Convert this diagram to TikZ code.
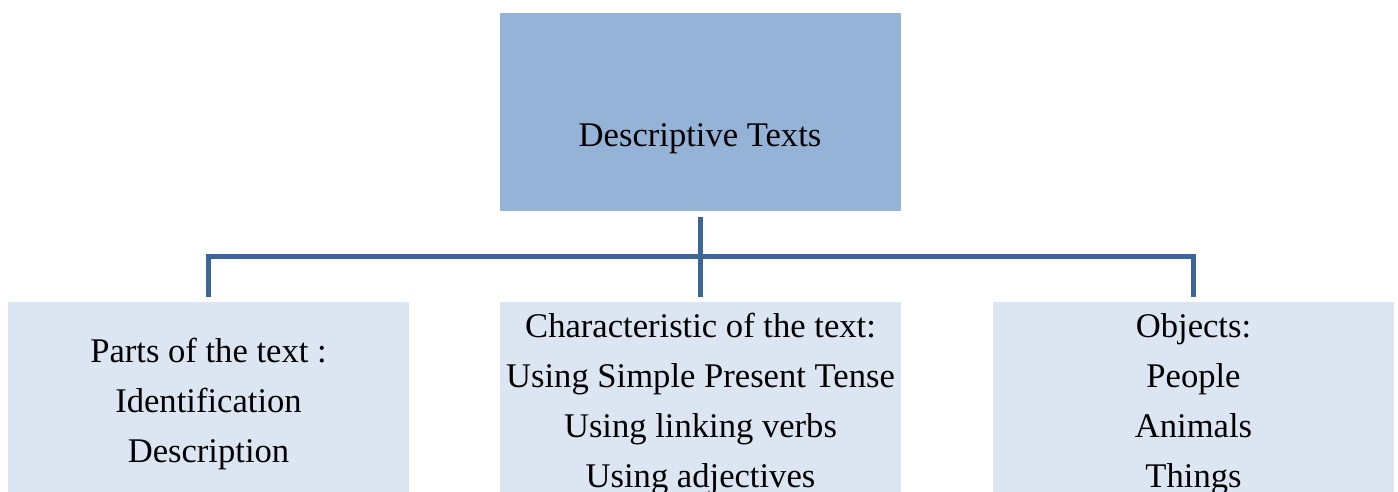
\documentclass[tikz,border=0pt]{standalone}
\usepackage{fontspec}
\setmainfont{Liberation Serif}
\usetikzlibrary{calc}
\definecolor{topfill}{RGB}{149,179,215}
\definecolor{lowfill}{RGB}{220,230,242}
\definecolor{linkcol}{RGB}{61,101,152}
\tikzset{
  topbox/.style={rectangle, fill=topfill, draw=none, minimum width=401pt, minimum height=198pt, inner sep=0pt},
  lowbox/.style={rectangle, fill=lowfill, draw=none, minimum width=401pt, minimum height=210pt, inner sep=0pt},
  lbl/.style={inner sep=0pt, anchor=base, font=\fontsize{34.6}{50}\selectfont},
  link/.style={draw=linkcol, line width=5pt, line join=miter}
}
\begin{document}
\begin{tikzpicture}[x=1pt,y=-1pt]
\useasboundingbox (0,0) rectangle (1398,492);
\clip (0,0) rectangle (1398,492);
\fill[white] (0,0) rectangle (1398,492);
\node[topbox] (top) at (700.5,112) {};
\node[lowbox] (left) at (208.5,407) {};
\node[lowbox] (mid) at (700.5,407) {};
\node[lowbox] (right) at (1193.5,407) {};
% labels
\node[lbl] (t0) at (700,147) {Descriptive Texts};
\node[lbl] (l1) at (208.5,362) {Parts of the text :};
\node[lbl] (l2) at (208.5,412) {Identification};
\node[lbl] (l3) at (208.5,462) {Description};
\node[lbl] (m1) at (700.5,337) {Characteristic of the text:};
\node[lbl] (m2) at (700.5,387) {Using Simple Present Tense};
\node[lbl] (m3) at (700.5,437) {Using linking verbs};
\node[lbl] (m4) at (700.5,487) {Using adjectives};
\node[lbl] (r1) at (1193.5,337) {Objects:};
\node[lbl] (r2) at (1193.5,387) {People};
\node[lbl] (r3) at (1193.5,437) {Animals};
\node[lbl] (r4) at (1193.5,487) {Things};
% connectors
\draw[link] ($(top.south)+(0,6)$) -- ($(mid.north)+(0,-5)$);
\draw[link] ($(left.north)+(0,-5)$) |- ($(right.north)+(0,-45)$) -- ($(right.north)+(0,-5)$);
\end{tikzpicture}
\end{document}
